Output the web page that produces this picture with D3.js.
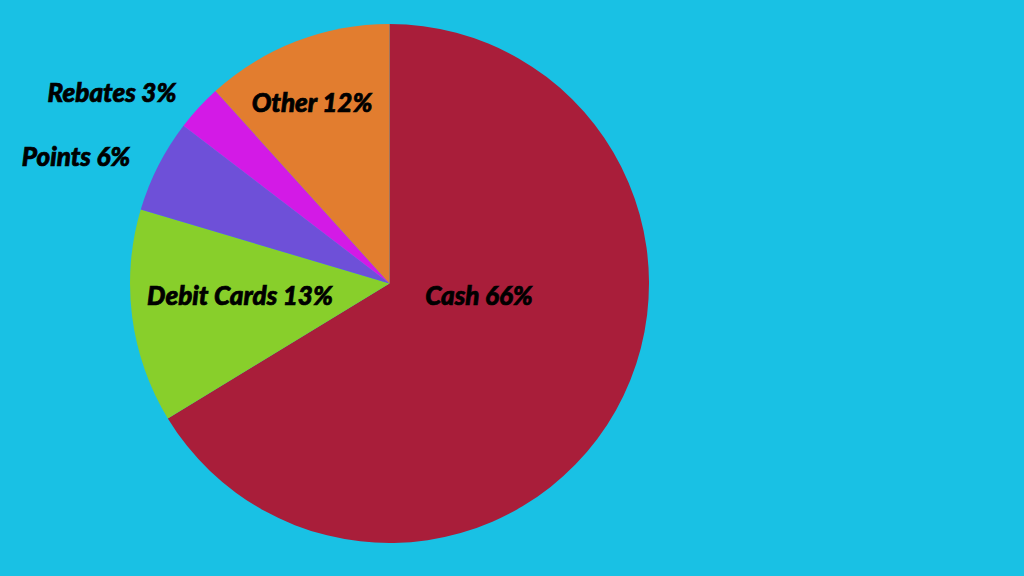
<!DOCTYPE html>
<html><head><meta charset="utf-8">
<script src="https://cdn.jsdelivr.net/npm/d3@7"></script>
<style>html,body{margin:0;padding:0;background:#19C1E4;}svg{display:block;}</style>
</head><body>
<svg id="c" width="1024" height="576"></svg>
<script>
const categories = ["Cash", "Debit Cards", "Points", "Rebates", "Other"];
const values = [66.3, 13.3, 5.8, 2.9, 11.7];
const colors = ["#A91E3A", "#88CF2B", "#6E50D8", "#D31AE6", "#E27D2F"];
// label layout (center x, baseline y) per category
const labelPos = {
  "Cash": [479, 305],
  "Debit Cards": [240, 305],
  "Points": [76, 166],
  "Rebates": [112, 102],
  "Other": [312, 112]
};
const svg = d3.select("#c");
const cx = 389.5, cy = 283.5, R = 259.5;
const data = categories.map((c, i) => ({cat: c, value: values[i], color: colors[i]}));
const pie = d3.pie().value(d => d.value).sort(null);
const arc = d3.arc().innerRadius(0).outerRadius(R);
const g = svg.append("g").attr("transform", `translate(${cx},${cy})`);
g.selectAll("path").data(pie(data)).join("path")
  .attr("d", arc).attr("fill", d => d.data.color);
svg.selectAll("text.lbl").data(data).join("text")
  .attr("class", "lbl")
  .attr("x", d => labelPos[d.cat][0])
  .attr("y", d => labelPos[d.cat][1])
  .attr("text-anchor", "middle")
  .style("font-family", "Lato, sans-serif")
  .style("font-weight", 900)
  .style("font-style", "italic")
  .style("font-size", "26px")
  .attr("fill", "#000")
  .attr("stroke", "#000")
  .attr("stroke-width", 0.7)
  .text(d => `${d.cat} ${Math.round(d.value)}%`);
</script>
</body></html>
